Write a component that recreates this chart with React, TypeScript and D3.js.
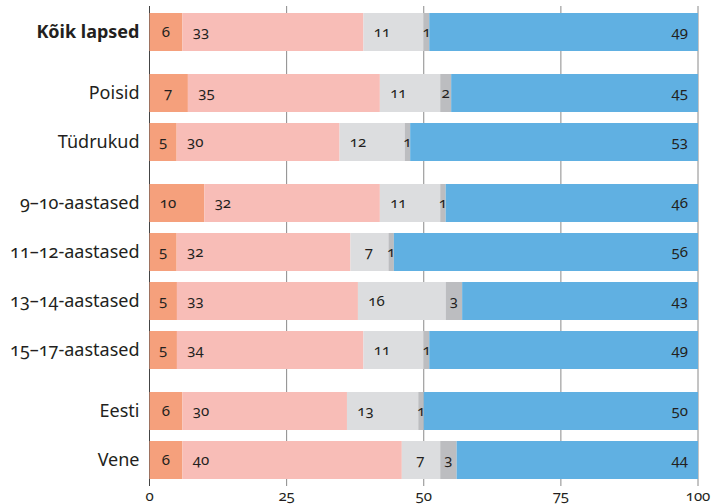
import React from "react";
import * as d3 from "d3";

const categories = [
  "Kõik lapsed",
  "Poisid",
  "Tüdrukud",
  "9–10-aastased",
  "11–12-aastased",
  "13–14-aastased",
  "15–17-aastased",
  "Eesti",
  "Vene",
];
const groupOf = [0, 1, 1, 2, 2, 2, 2, 3, 3];

const s1 = [6, 7, 5, 10, 5, 5, 5, 6, 6];
const s2 = [33, 35, 30, 32, 32, 33, 34, 30, 40];
const s3 = [11, 11, 12, 11, 7, 16, 11, 13, 7];
const s4 = [1, 2, 1, 1, 1, 3, 1, 1, 3];
const s5 = [49, 45, 53, 46, 56, 43, 49, 50, 44];

const ticks = [0, 25, 50, 75, 100];
const colors = ["#f5a07c", "#f8bdb7", "#dcdddf", "#bcbdc0", "#60b0e2"];

const W = 713;
const H = 504;
const left = 149.5;
const right = 698;
const barH = 38;
const step = 49;
const groupGap = 12;
const top = 13;

const font = "'Noto Sans', 'Open Sans', sans-serif";
const onum = { fontVariantNumeric: "oldstyle-nums" } as const;

export default function App() {
  const x = d3.scaleLinear().domain([0, 100]).range([left, right]);
  const rowY = d3.scaleLinear().domain([0, 1]).range([top, top + step]);
  const yOf = (i: number) => rowY(i) + groupOf[i] * groupGap;

  const series = [s1, s2, s3, s4, s5];
  const rows = categories.map((c, i) => {
    const vals = series.map((s) => s[i]);
    const total = d3.sum(vals);
    // rounded shares may add to 101, so scale each row to a full 100
    const ends = Array.from(d3.cumsum(vals)).map((e) => (e / total) * 100);
    return { c, i, vals, ends };
  });

  return (
    <svg
      width={W}
      height={H}
      style={{ position: "absolute", left: 0, top: 0, display: "block" }}
      fontFamily={font}
    >
      {ticks.map((t) => (
        <line
          key={"g" + t}
          x1={x(t)}
          x2={x(t)}
          y1={6}
          y2={486}
          stroke={t === 0 ? "#444" : "#8a8a8a"}
          strokeWidth={1}
        />
      ))}
      {rows.map((r) => {
        const y0 = yOf(r.i);
        return (
          <g key={r.c}>
            {r.vals.map((v, k) => {
              const start = k === 0 ? 0 : r.ends[k - 1];
              const xs = x(start);
              const w = x(r.ends[k]) - xs;
              let lx = xs + Math.min(18.5, w / 2);
              let anchor = "middle";
              if (k === 4) {
                lx = x(100) - 10;
                anchor = "end";
              }
              return (
                <g key={k}>
                  <rect x={xs} y={y0} width={w} height={barH} fill={colors[k]} />
                  <text
                    x={lx}
                    y={y0 + barH / 2 + 5}
                    textAnchor={anchor}
                    fontSize={15}
                    fill="#231f20"
                    style={onum}
                  >
                    {v}
                  </text>
                </g>
              );
            })}
            <text
              x={139.5}
              y={y0 + barH / 2 + 6}
              textAnchor="end"
              fontSize={18}
              fontWeight={r.i === 0 ? 700 : 400}
              fill="#231f20"
              style={onum}
            >
              {r.c}
            </text>
          </g>
        );
      })}
      {ticks.map((t) => (
        <text
          key={"t" + t}
          x={x(t)}
          y={501}
          textAnchor="middle"
          fontSize={15}
          fill="#231f20"
          style={onum}
        >
          {t}
        </text>
      ))}
    </svg>
  );
}
